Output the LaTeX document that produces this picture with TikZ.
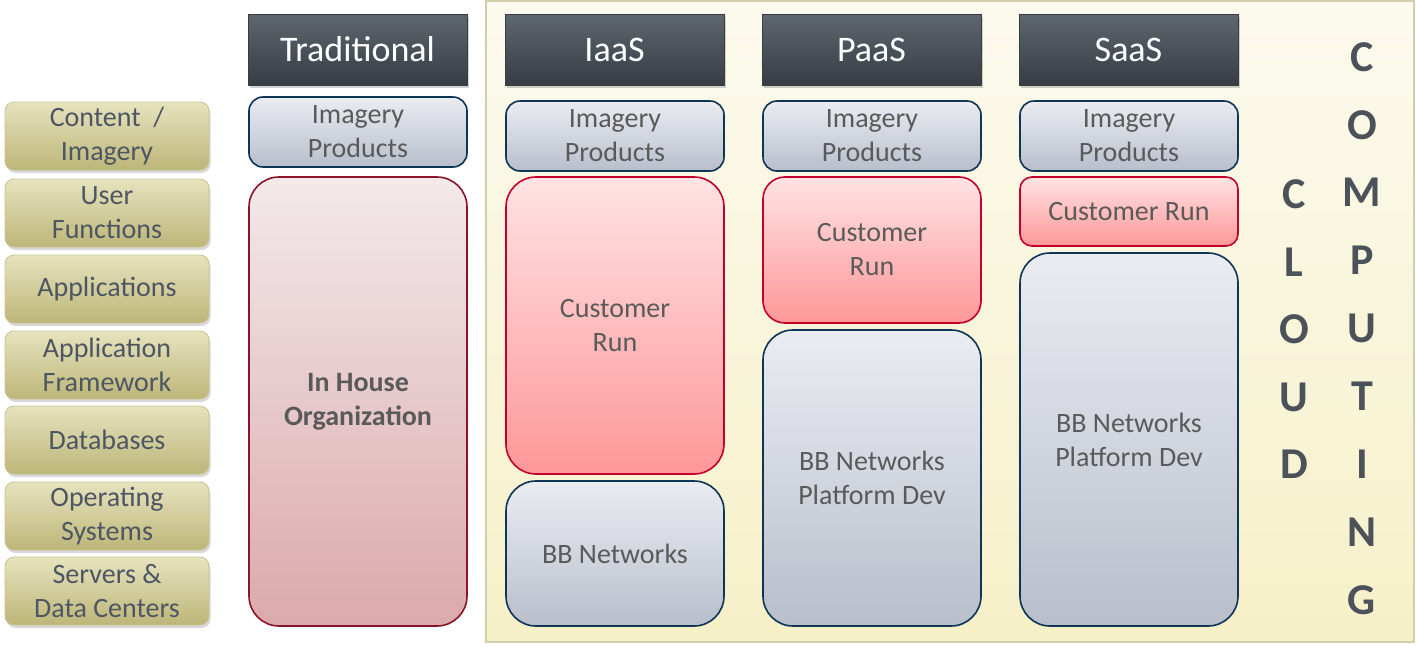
\documentclass[tikz,border=0pt]{standalone}
\usepackage{fontspec}
\setmainfont{Carlito}
\usetikzlibrary{shadows}
\definecolor{hdtop}{HTML}{5E666E}
\definecolor{hdbot}{HTML}{363D44}
\definecolor{bluetop}{HTML}{EBECF2}
\definecolor{bluebot}{HTML}{B8BFCB}
\definecolor{blueline}{HTML}{0D3556}
\definecolor{redtop}{HTML}{FFE3E4}
\definecolor{redbot}{HTML}{FE9798}
\definecolor{redline}{HTML}{C2002B}
\definecolor{pinktop}{HTML}{F3E9EB}
\definecolor{pinkbot}{HTML}{DBA9AB}
\definecolor{pinkline}{HTML}{8A1429}
\definecolor{tantop}{HTML}{E6E3BE}
\definecolor{tanbot}{HTML}{BDB679}
\definecolor{tanline}{HTML}{C9C391}
\definecolor{paneltop}{HTML}{FCFAEE}
\definecolor{panelbot}{HTML}{F6F0C8}
\definecolor{panelline}{HTML}{D3CDAA}
\definecolor{txtgray}{HTML}{5A5A5A}
\definecolor{tantxt}{HTML}{4D5662}
\definecolor{lettercol}{HTML}{4B525A}
\tikzset{
  txt/.style={font=\fontsize{28}{34}\selectfont, align=center, text=txtgray},
  header/.style={draw=hdbot, line width=0.8pt, top color=hdtop, bottom color=hdbot,
     minimum width=219pt, minimum height=71pt, inner sep=0pt, text=white,
     font=\fontsize{36}{40}\selectfont,
     drop shadow={opacity=0.35, shadow xshift=2pt, shadow yshift=-3pt}},
  bluebox/.style={txt, draw=blueline, line width=1.6pt, top color=bluetop, bottom color=bluebot,
     rounded corners=14pt, minimum width=218pt, inner sep=0pt},
  redbox/.style={txt, draw=redline, line width=1.6pt, top color=redtop, bottom color=redbot,
     rounded corners=22pt, minimum width=218pt, inner sep=0pt},
  pinkbox/.style={txt, draw=pinkline, line width=1.6pt, top color=pinktop, bottom color=pinkbot,
     rounded corners=30pt, minimum width=218pt, inner sep=0pt},
  tanbox/.style={font=\fontsize{28}{34}\selectfont, align=center, text=tantxt,
     draw=tanline, line width=0.8pt, top color=tantop, bottom color=tanbot,
     rounded corners=9pt, minimum width=204pt, minimum height=68pt, inner sep=0pt,
     drop shadow={opacity=0.3, shadow xshift=1.5pt, shadow yshift=-3pt}},
  letter/.style={font=\bfseries\fontsize{44}{44}\selectfont, text=lettercol, inner sep=0pt}
}
\begin{document}
\begin{tikzpicture}[x=1pt,y=-1pt]
\useasboundingbox (0,0) rectangle (1416,646);
% cloud panel
\node[draw=panelline, line width=2pt, top color=paneltop, bottom color=panelbot,
      minimum width=928pt, minimum height=641pt, inner sep=0pt] (cloud) at (950,321.5) {};
% left tan buttons
\node[tanbox] (content) at (107,136) {Content~~/\\Imagery};
\node[tanbox] (userf) at (107,213) {User\\Functions};
\node[tanbox] (apps) at (107,289) {Applications};
\node[tanbox] (appfw) at (107,365) {Application\\Framework};
\node[tanbox] (db) at (107,440) {Databases};
\node[tanbox] (os) at (107,516) {Operating\\Systems};
\node[tanbox] (servers) at (107,591) {Servers \&\\Data Centers};
% headers
\node[header] (trad) at (357.5,49.5) {Traditional};
\node[header] (iaas) at (614.5,49.5) {IaaS};
\node[header] (paas) at (871.5,49.5) {PaaS};
\node[header] (saas) at (1128.5,49.5) {SaaS};
% Traditional column
\node[bluebox, minimum height=70pt] (timg) at (358,132) {Imagery\\Products};
\node[pinkbox, minimum height=449pt, font=\bfseries\fontsize{28}{34}\selectfont] (inhouse) at (358,401.5) {In House\\Organization};
% IaaS column
\node[bluebox, minimum height=70pt] (iimg) at (615,136) {Imagery\\Products};
\node[redbox, rounded corners=30pt, minimum height=297pt] (icust) at (615,325.5) {Customer\\Run};
\node[bluebox, rounded corners=30pt, minimum height=145pt] (inet) at (615,553.5) {BB Networks};
% PaaS column
\node[bluebox, minimum height=70pt] (pimg) at (872,136) {Imagery\\Products};
\node[redbox, minimum height=146pt] (pcust) at (872,250) {Customer\\Run};
\node[bluebox, rounded corners=30pt, minimum height=296pt] (pnet) at (872,478) {BB Networks\\Platform Dev};
% SaaS column
\node[bluebox, minimum height=70pt] (simg) at (1129,136) {Imagery\\Products};
\node[redbox, rounded corners=12pt, minimum height=69pt] (scust) at (1129,211.5) {Customer Run};
\node[bluebox, rounded corners=30pt, minimum height=373pt] (snet) at (1129,439.5) {BB Networks\\Platform Dev};
% CLOUD
\node[letter] (cl1) at (1294,194) {C};
\node[letter] (cl2) at (1294,262) {L};
\node[letter] (cl3) at (1294,329) {O};
\node[letter] (cl4) at (1294,397) {U};
\node[letter] (cl5) at (1294,464) {D};
% COMPUTING
\node[letter] (cp1) at (1362,57) {C};
\node[letter] (cp2) at (1362,125) {O};
\node[letter] (cp3) at (1362,192) {M};
\node[letter] (cp4) at (1362,260) {P};
\node[letter] (cp5) at (1362,328) {U};
\node[letter] (cp6) at (1362,396) {T};
\node[letter] (cp7) at (1362,464) {I};
\node[letter] (cp8) at (1362,532) {N};
\node[letter] (cp9) at (1362,600) {G};
\end{tikzpicture}
\end{document}
